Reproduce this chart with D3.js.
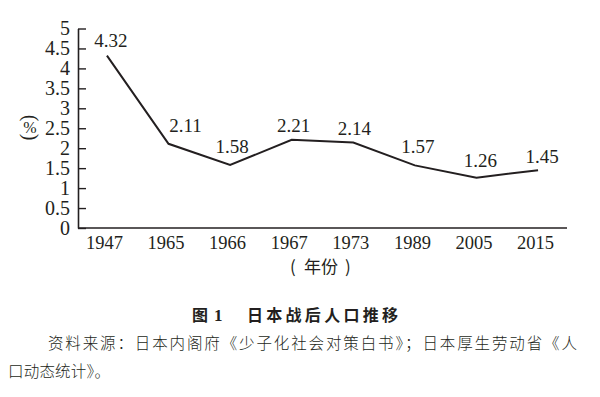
<!DOCTYPE html>
<html>
<head>
<meta charset="utf-8">
<script src="https://cdn.jsdelivr.net/npm/d3@7"></script>
<style>
  body { margin: 0; background: #fff; }
  svg { display: block; }
</style>
</head>
<body>
<div id="chart"></div>
<script>
// data
const years = ['1947', '1965', '1966', '1967', '1973', '1989', '2005', '2015'];
const rates = [4.32, 2.11, 1.58, 2.21, 2.14, 1.57, 1.26, 1.45];
const yTicks = [0, 0.5, 1, 1.5, 2, 2.5, 3, 3.5, 4, 4.5, 5];
// label nudges (dx, dy above the point)
const labelDx = [4, 17, 2, 2, 1, 3, 4, 4];
const labelDy = [-9, -12, -12, -8, -8, -12, -11, -7];

const width = 600, height = 397;
const ink = '#231f20';
const serif = '"Liberation Serif", "DejaVu Serif", serif';
const cjk = '"Noto Sans CJK SC", "Noto Sans", sans-serif';

const svg = d3.select('#chart').append('svg')
    .attr('width', width)
    .attr('height', height);

const x = d3.scalePoint()
    .domain(years)
    .range([78, 567])
    .padding(0.47);

const y = d3.scaleLinear()
    .domain([0, 5])
    .range([228, 28.5]);

// y axis, ticks pointing inward
const yAxis = svg.append('g')
    .attr('transform', 'translate(78,0)')
    .call(d3.axisLeft(y)
        .tickValues(yTicks)
        .tickFormat(d3.format('~g'))
        .tickSizeInner(-8)
        .tickSizeOuter(0)
        .tickPadding(8));

yAxis.select('.domain').attr('stroke', ink).attr('stroke-width', 1.6);
yAxis.selectAll('.tick line').attr('stroke', ink).attr('stroke-width', 1.4);
yAxis.selectAll('.tick text')
    .attr('fill', ink)
    .style('font-family', serif)
    .style('font-size', '20px');

// x axis: just the baseline and the year labels
const xAxis = svg.append('g')
    .attr('transform', `translate(0,${y(0)})`)
    .call(d3.axisBottom(x).tickSize(0).tickPadding(8));

xAxis.select('.domain')
    .attr('d', `M78,0H567`)
    .attr('stroke', ink)
    .attr('stroke-width', 1.6);
xAxis.selectAll('.tick text')
    .attr('fill', ink)
    .attr('dx', -3)
    .style('font-family', serif)
    .style('font-size', '18.5px');

// line
const line = d3.line()
    .x((d, i) => x(years[i]))
    .y(d => y(d));

svg.append('path')
    .datum(rates)
    .attr('fill', 'none')
    .attr('stroke', ink)
    .attr('stroke-width', 2)
    .attr('stroke-linejoin', 'miter')
    .attr('d', line);

// value labels
svg.selectAll('.val')
    .data(rates)
    .join('text')
    .attr('class', 'val')
    .attr('x', (d, i) => x(years[i]) + labelDx[i])
    .attr('y', (d, i) => y(d) + labelDy[i])
    .attr('text-anchor', 'middle')
    .attr('fill', ink)
    .style('font-family', serif)
    .style('font-size', '19px')
    .text(d => d3.format('.2f')(d));

// y unit "(%)" written vertically
const unit = svg.append('g')
    .attr('transform', 'translate(30,127)')
    .attr('fill', ink)
    .style('font-family', serif);
unit.append('text')
    .attr('transform', 'translate(0,-9) rotate(90)')
    .attr('text-anchor', 'middle')
    .attr('dy', '0.32em')
    .style('font-size', '20px')
    .text('(');
unit.append('text')
    .attr('text-anchor', 'middle')
    .attr('dy', '0.35em')
    .style('font-size', '16px')
    .text('%');
unit.append('text')
    .attr('transform', 'translate(0,10) rotate(90)')
    .attr('text-anchor', 'middle')
    .attr('dy', '0.32em')
    .style('font-size', '20px')
    .text(')');

// x unit
const xUnit = svg.append('text')
    .attr('y', 273)
    .attr('fill', ink)
    .style('font-family', cjk)
    .style('font-size', '17px');
xUnit.append('tspan').attr('x', 290).text('(');
xUnit.append('tspan').attr('x', 304).text('年份');
xUnit.append('tspan').attr('x', 345).text(')');

// figure title
const title = svg.append('text')
    .attr('x', 192)
    .attr('y', 321)
    .attr('fill', ink)
    .style('font-family', cjk)
    .style('font-weight', 'bold')
    .style('font-size', '16px');
title.append('tspan').text('图');
title.append('tspan').attr('dx', 6).style('font-family', serif).style('font-size', '17px').text('1');
title.append('tspan').attr('x', 247).attr('textLength', 151).attr('lengthAdjust', 'spacing').text('日本战后人口推移');

// source note
svg.append('text')
    .attr('x', 48)
    .attr('y', 349)
    .attr('textLength', 529)
    .attr('lengthAdjust', 'spacing')
    .attr('fill', ink)
    .style('font-family', cjk)
    .style('font-weight', 300)
    .style('font-size', '15.5px')
    .text('资料来源：日本内阁府《少子化社会对策白书》；日本厚生劳动省《人');

svg.append('text')
    .attr('x', 8)
    .attr('y', 377)
    .attr('textLength', 102)
    .attr('lengthAdjust', 'spacing')
    .attr('fill', ink)
    .style('font-family', cjk)
    .style('font-weight', 300)
    .style('font-size', '15.5px')
    .text('口动态统计》。');
</script>
</body>
</html>
